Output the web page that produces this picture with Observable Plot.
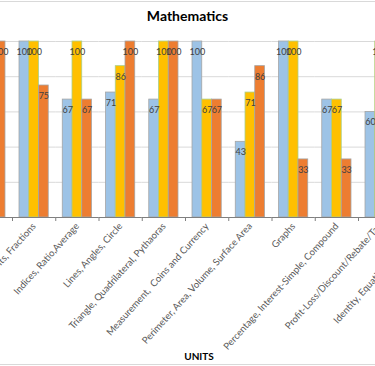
<!DOCTYPE html>
<html><head><meta charset="utf-8">
<script src="https://cdn.jsdelivr.net/npm/d3@7"></script>
<script src="https://cdn.jsdelivr.net/npm/@observablehq/plot@0.6"></script>
<style>
html,body{margin:0;padding:0;background:#fff;overflow:hidden;}
#wrap{position:relative;width:375px;height:366px;overflow:hidden;font-family:Lato,"Open Sans",sans-serif;}
#frame{position:absolute;left:-5px;right:-5px;top:1px;bottom:1px;border:1px solid #d9d9d9;}
#title{position:absolute;top:7px;left:0;width:375px;text-align:center;font-weight:bold;font-size:14px;color:#000;}
#chart{position:absolute;left:-60px;top:30px;width:515px;height:336px;}
#chart svg{max-width:none !important;}
#xtitle{position:absolute;left:199px;top:350px;transform:translateX(-50%);font-weight:bold;font-size:10px;color:#000;}
</style>
</head><body>
<div id="wrap">
  <div id="frame"></div>
  <div id="title">Mathematics</div>
  <div id="chart"></div>
  <div id="xtitle">UNITS</div>
</div>
<script>
const categories = [
  "Number System",
  "Integers, Exponents, Fractions",
  "Indices, Ratio,Average",
  "Lines, Angles, Circle",
  "Triangle, Quadrilateral, Pythaoras",
  "Measurement,  Coins and Currency",
  "Perimeter, Area, Volume, Surface Area",
  "Graphs",
  "Percentage, Interest-Simple, Compound",
  "Profit-Loss/Discount/Rebate/Tax",
  "Identity, Equations, Inequalities"
];
const seriesNames = ["Series 1", "Series 2", "Series 3"];
const blueValues   = [null, 100, 67, 71, 67, 100, 43, 100, 67, 60, null];
const yellowValues = [null, 100, 100, 86, 100, 67, 71, 100, 67, 100, null];
const orangeValues = [100, 75, 67, 100, 100, 67, 86, 33, 33, null, null];
const gridValues = [20, 40, 60, 80, 100];

const seriesData = [blueValues, yellowValues, orangeValues];
const fills = ["#9DC3E6", "#FFC000", "#ED7D31"];
const strokes = ["#A5A5A5", "#A9D08E", "#A5A5A5"];

const rows = [];
categories.forEach((c, i) => {
  seriesNames.forEach((s, j) => {
    const v = seriesData[j][i];
    if (v != null) rows.push({unit: c, series: s, value: v});
  });
});

const step = 43.25;
const chart = Plot.plot({
  width: 514.5,
  height: 336,
  marginLeft: 28.75,
  marginRight: 10,
  marginTop: 11,
  marginBottom: 149,
  fx: {domain: categories, padding: 0, round: false, label: null},
  x: {domain: seriesNames, paddingInner: 0, paddingOuter: 0.72, round: false, axis: null},
  y: {domain: [0, 100], axis: null},
  style: {fontFamily: "Lato, 'Open Sans', sans-serif", background: "transparent", overflow: "visible", maxWidth: "none"},
  marks: [
    Plot.ruleY(gridValues, {stroke: "#d9d9d9", strokeWidth: 1}),
    ...seriesNames.map((s, j) => Plot.barY(rows.filter(d => d.series === s), {
      fx: "unit", x: "series", y: "value",
      fill: fills[j], stroke: strokes[j], strokeWidth: 0.8
    })),
    Plot.ruleY([0], {stroke: "#7f7f7f", strokeWidth: 1}),
    Plot.text(rows, {
      fx: "unit", x: "series", y: "value", text: d => String(d.value),
      dy: 10.5, fontSize: 9, fill: "#404040"
    }),
    Plot.axisFx({anchor: "bottom", tickSize: 4, dx: -step / 2, tickFormat: () => "", color: "#7f7f7f", label: null}),
    Plot.axisFx({anchor: "bottom", tickSize: 0, tickPadding: 7, tickRotate: -48, fontSize: 9.6, color: "#595959", label: null})
  ]
});
document.getElementById("chart").appendChild(chart);
</script>
</body></html>
